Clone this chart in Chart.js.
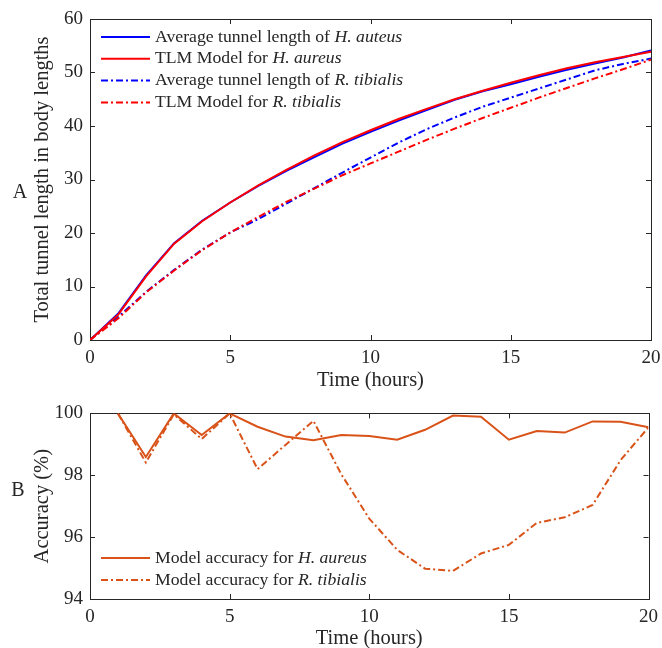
<!DOCTYPE html>
<html>
<head>
<meta charset="utf-8">
<script src="https://cdn.jsdelivr.net/npm/chart.js@4.4.0/dist/chart.umd.min.js"></script>
<style>
html, body { margin: 0; padding: 0; background: #fff; overflow: hidden; }
#wrap { position: relative; width: 662px; height: 648px; overflow: hidden; }
canvas { position: absolute; left: 0; }
#chartA { top: 0; }
#chartB { top: 395px; }
</style>
</head>
<body>
<div id="wrap">
  <canvas id="chartA" width="662" height="395"></canvas>
  <canvas id="chartB" width="662" height="258"></canvas>
</div>
<script>
// data
const hours = [0, 1, 2, 3, 4, 5, 6, 7, 8, 9, 10, 11, 12, 13, 14, 15, 16, 17, 18, 19, 20];
const aureusAvg     = [0, 4.9, 12.1, 18.1, 22.3, 25.7, 28.8, 31.6, 34.2, 36.7, 38.9, 41.0, 43.0, 44.9, 46.5, 47.8, 49.2, 50.5, 51.7, 52.8, 54.1];
const aureusModel   = [0, 4.7, 11.9, 18.0, 22.2, 25.7, 28.9, 31.8, 34.5, 37.0, 39.2, 41.3, 43.2, 45.0, 46.6, 48.1, 49.5, 50.8, 51.9, 52.9, 53.9];
const tibialisAvg   = [0, 4.3, 9.0, 13.1, 16.9, 20.1, 22.6, 25.5, 28.4, 31.3, 34.1, 36.9, 39.4, 41.6, 43.6, 45.3, 47.0, 48.7, 50.4, 51.6, 52.6];
const tibialisModel = [0, 4.0, 8.9, 13.0, 16.8, 20.1, 23.0, 25.8, 28.3, 30.8, 33.0, 35.2, 37.4, 39.5, 41.5, 43.4, 45.3, 47.1, 48.9, 50.6, 52.4];

const accHours    = [1, 2, 3, 4, 5, 6, 7, 8, 9, 10, 11, 12, 13, 14, 15, 16, 17, 18, 19, 20];
const accAureus   = [100, 98.59, 100, 99.30, 100, 99.57, 99.25, 99.13, 99.30, 99.27, 99.15, 99.47, 99.93, 99.89, 99.15, 99.43, 99.38, 99.74, 99.73, 99.55];
const accTibialis = [100, 98.41, 99.97, 99.17, 100, 98.20, 98.98, 99.76, 98.03, 96.60, 95.59, 94.98, 94.91, 95.47, 95.75, 96.46, 96.64, 97.04, 98.49, 99.55];

const xTicks = [0, 5, 10, 15, 20];
const legendA = [
  ['Average tunnel length of ', 'H. auteus'],
  ['TLM Model for ', 'H. aureus'],
  ['Average tunnel length of ', 'R. tibialis'],
  ['TLM Model for ', 'R. tibialis']
];
const legendB = [
  ['Model accuracy for ', 'H. aureus'],
  ['Model accuracy for ', 'R. tibialis']
];

const BLUE = '#0000FF';
const RED = '#FF0000';
const ORANGE = '#D95319';
const INK = '#262626';
const SERIF = "'Liberation Serif', 'Times New Roman', serif";
const DASHDOT = [7, 3, 2, 3];

function pts(xs, ys) {
  return xs.map((x, i) => ({ x: x, y: ys[i] }));
}

// box + inward ticks like the original
const frame = {
  id: 'frame',
  beforeDatasetsDraw(chart) {
    const { ctx, chartArea: a, scales: { x, y } } = chart;
    ctx.save();
    ctx.strokeStyle = INK;
    ctx.lineWidth = 1;
    ctx.strokeRect(Math.round(a.left) + 0.5, Math.round(a.top) + 0.5,
      Math.round(a.right) - Math.round(a.left), Math.round(a.bottom) - Math.round(a.top));
    ctx.beginPath();
    x.ticks.forEach(t => {
      const px = Math.round(x.getPixelForValue(t.value)) + 0.5;
      ctx.moveTo(px, a.bottom); ctx.lineTo(px, a.bottom - 5);
      ctx.moveTo(px, a.top); ctx.lineTo(px, a.top + 5);
    });
    y.ticks.forEach(t => {
      const py = Math.round(y.getPixelForValue(t.value)) + 0.5;
      ctx.moveTo(a.left, py); ctx.lineTo(a.left + 5, py);
      ctx.moveTo(a.right, py); ctx.lineTo(a.right - 5, py);
    });
    ctx.stroke();
    ctx.restore();
  }
};

// legend with italic species names + panel letter
const extras = {
  id: 'extras',
  afterDraw(chart, args, opts) {
    const ctx = chart.ctx;
    ctx.save();
    ctx.textBaseline = 'middle';
    opts.items.forEach((parts, i) => {
      const ds = chart.data.datasets[i];
      const yy = opts.top + i * opts.gap;
      ctx.strokeStyle = ds.borderColor;
      ctx.lineWidth = ds.borderWidth;
      ctx.setLineDash(ds.borderDash || []);
      ctx.beginPath();
      ctx.moveTo(opts.x0, yy);
      ctx.lineTo(opts.x1, yy);
      ctx.stroke();
      ctx.setLineDash([]);
      ctx.fillStyle = INK;
      ctx.font = '17.7px ' + SERIF;
      ctx.fillText(parts[0], opts.x1 + 5, yy);
      const w = ctx.measureText(parts[0]).width;
      ctx.font = 'italic 17.7px ' + SERIF;
      ctx.fillText(parts[1], opts.x1 + 5 + w, yy);
    });
    ctx.font = '20px ' + SERIF;
    ctx.fillStyle = INK;
    ctx.textAlign = 'center';
    ctx.fillText(opts.panel, opts.px, opts.py);
    ctx.restore();
  }
};

function xScale(h) {
  return {
    type: 'linear', min: 0, max: 20,
    afterBuildTicks: s => { s.ticks = xTicks.map(v => ({ value: v })); },
    afterFit: s => { s.height = h; s.paddingLeft = 0; s.paddingRight = 0; },
    grid: { display: false, drawTicks: false },
    border: { display: false },
    ticks: { color: INK, font: { family: SERIF, size: 19 }, padding: 7, maxRotation: 0 },
    title: { display: true, text: 'Time (hours)', color: INK, font: { family: SERIF, size: 20.5 }, padding: { top: 0, bottom: 2 } }
  };
}

function yScale(min, max, step, label) {
  return {
    type: 'linear', min: min, max: max,
    afterFit: s => { s.width = 90; },
    grid: { display: false, drawTicks: false },
    border: { display: false },
    ticks: { stepSize: step, color: INK, font: { family: SERIF, size: 19 }, padding: 7 },
    title: { display: true, text: label, color: INK, font: { family: SERIF, size: 20.5 }, padding: { top: 30, bottom: 0 } }
  };
}

function line(data, color, dash, order) {
  return {
    data: data, borderColor: color, backgroundColor: color, borderWidth: 2,
    borderDash: dash, pointRadius: 0, tension: 0, fill: false, order: order
  };
}

new Chart(document.getElementById('chartA'), {
  type: 'line',
  data: {
    datasets: [
      line(pts(hours, aureusAvg), BLUE, [], 2),
      line(pts(hours, aureusModel), RED, [], 0),
      line(pts(hours, tibialisAvg), BLUE, DASHDOT, 3),
      line(pts(hours, tibialisModel), RED, DASHDOT, 1)
    ]
  },
  options: {
    responsive: false, animation: false,
    layout: { padding: { top: 19, right: 11, left: 0, bottom: 0 } },
    scales: { x: xScale(55), y: yScale(0, 60, 10, 'Total tunnel length in body lengths') },
    plugins: {
      legend: { display: false }, tooltip: { enabled: false },
      extras: { items: legendA, x0: 101, x1: 150, top: 37, gap: 21.8, panel: 'A', px: 20, py: 193 }
    }
  },
  plugins: [frame, extras]
});

new Chart(document.getElementById('chartB'), {
  type: 'line',
  data: {
    datasets: [
      line(pts(accHours, accAureus), ORANGE, [], 0),
      line(pts(accHours, accTibialis), ORANGE, DASHDOT, 1)
    ]
  },
  options: {
    responsive: false, animation: false,
    layout: { padding: { top: 7, right: 13.5, left: 0, bottom: 0 } },
    scales: { x: xScale(54), y: yScale(94, 100, 2, 'Accuracy (%)') },
    plugins: {
      legend: { display: false }, tooltip: { enabled: false },
      extras: { items: legendB, x0: 101, x1: 150, top: 163, gap: 22, panel: 'B', px: 18, py: 96 }
    }
  },
  plugins: [frame, extras]
});
</script>
</body>
</html>
